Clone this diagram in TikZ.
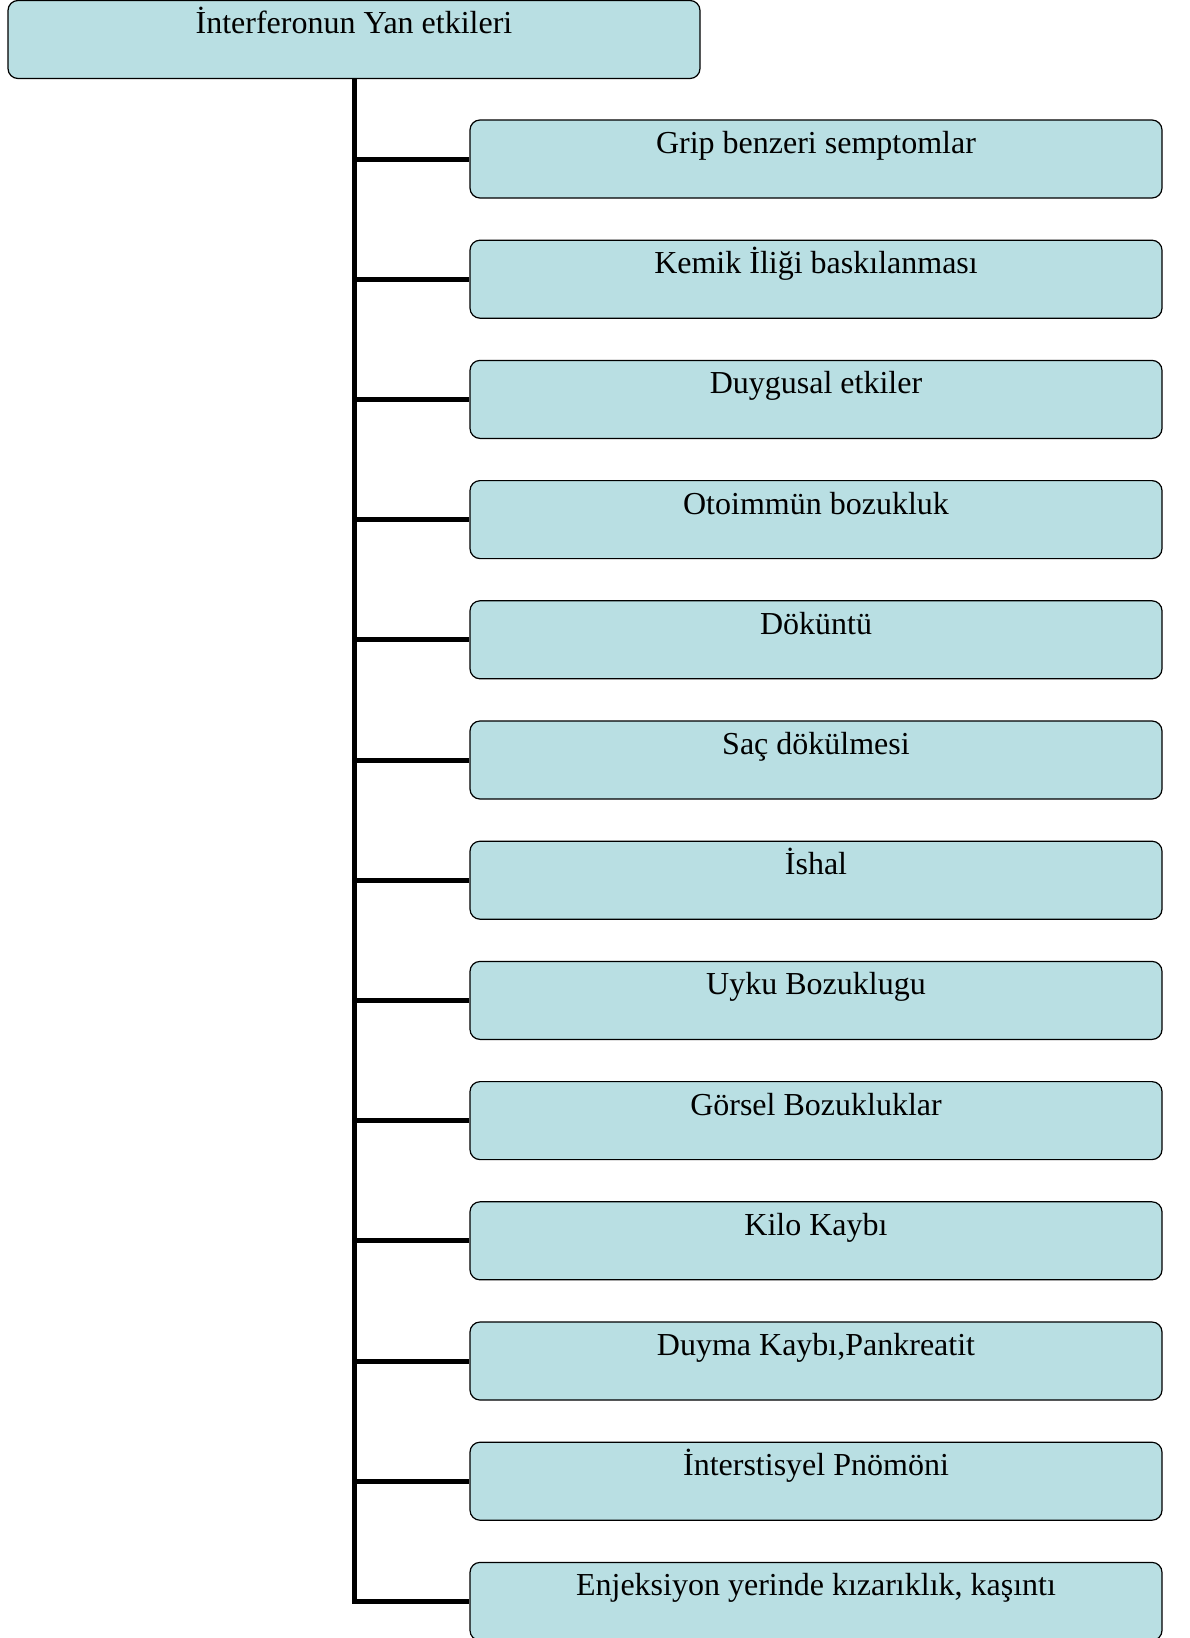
\documentclass[tikz,border=0pt]{standalone}
\usepackage{fontspec}
\setmainfont{Liberation Serif}
\usepackage{tikz}
\definecolor{boxfill}{RGB}{185,223,227}

\begin{document}
\begin{tikzpicture}[x=0.5pt, y=-0.5pt,
						% Define a style for the boxes and the connectors
						effect box/.style={draw=black, line width=0.6pt, fill=boxfill, rounded corners=5pt,
							minimum width=346pt, inner sep=0pt, text height=16.7pt, text depth=22.3pt,
							font=\fontsize{16}{19}\selectfont},
						branch/.style={line width=2.5pt}
						]
						\useasboundingbox (0,0) rectangle (1189,1638);
						
						% Define and place the nodes
						\node[effect box] (top) at (354,39.5) {İnterferonun Yan etkileri};
						\node[effect box] (c1) at (816,159) {Grip benzeri semptomlar};
						\node[effect box] (c2) at (816,279.2) {Kemik İliği baskılanması};
						\node[effect box] (c3) at (816,399.4) {Duygusal etkiler};
						\node[effect box] (c4) at (816,519.6) {Otoimmün bozukluk};
						\node[effect box] (c5) at (816,639.8) {Döküntü};
						\node[effect box] (c6) at (816,760) {Saç dökülmesi};
						\node[effect box] (c7) at (816,880.2) {İshal};
						\node[effect box] (c8) at (816,1000.4) {Uyku Bozuklugu};
						\node[effect box] (c9) at (816,1120.6) {Görsel Bozukluklar};
						\node[effect box] (c10) at (816,1240.8) {Kilo Kaybı};
						\node[effect box] (c11) at (816,1361) {Duyma Kaybı,Pankreatit};
						\node[effect box] (c12) at (816,1481.2) {İnterstisyel Pnömöni};
						\node[effect box] (c13) at (816,1601.4) {Enjeksiyon yerinde kızarıklık, kaşıntı};
						
						% --- Draw the connectors ---
						\draw[branch] (top.south) |- (c1.west);
						\draw[branch] (top.south) |- (c2.west);
						\draw[branch] (top.south) |- (c3.west);
						\draw[branch] (top.south) |- (c4.west);
						\draw[branch] (top.south) |- (c5.west);
						\draw[branch] (top.south) |- (c6.west);
						\draw[branch] (top.south) |- (c7.west);
						\draw[branch] (top.south) |- (c8.west);
						\draw[branch] (top.south) |- (c9.west);
						\draw[branch] (top.south) |- (c10.west);
						\draw[branch] (top.south) |- (c11.west);
						\draw[branch] (top.south) |- (c12.west);
						\draw[branch] (top.south) |- (c13.west);
					\end{tikzpicture}
\end{document}
